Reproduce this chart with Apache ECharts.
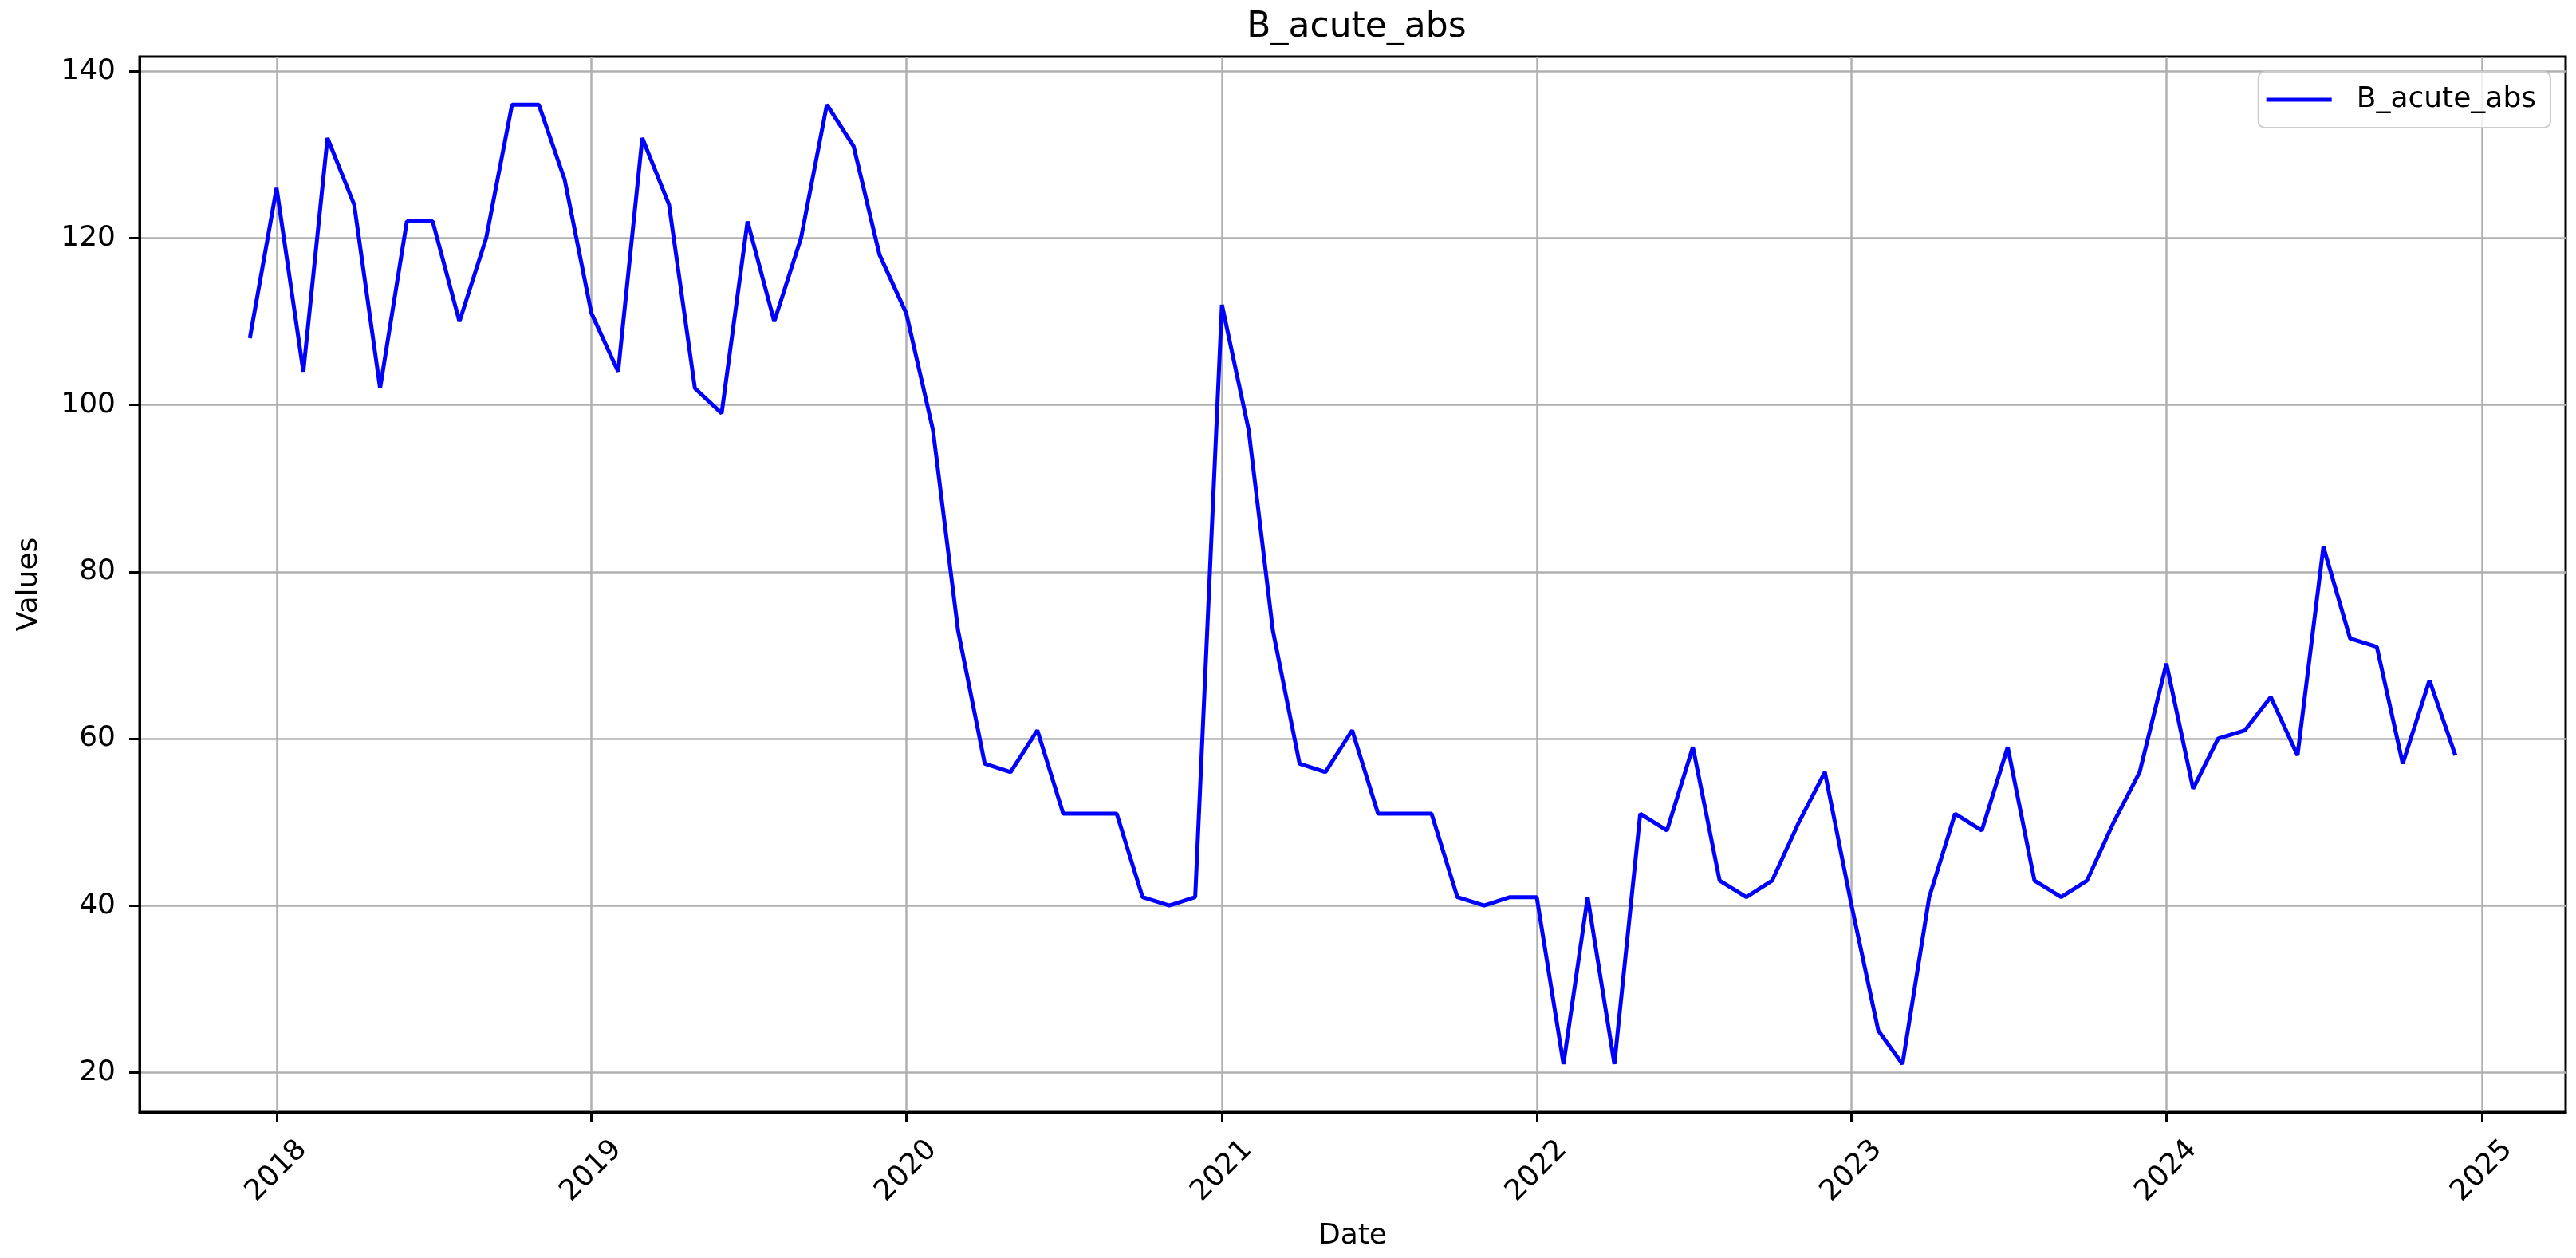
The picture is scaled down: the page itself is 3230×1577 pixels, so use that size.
<!DOCTYPE html>
<html>
<head>
<meta charset="utf-8">
<title>B_acute_abs</title>
<script src="https://cdn.jsdelivr.net/npm/echarts@6/dist/echarts.min.js"></script>
<style>
  html, body { margin: 0; padding: 0; background: #ffffff; }
  #chart { width: 3230px; height: 1577px; }
</style>
</head>
<body>
<div id="chart"></div>
<script>
const seriesName = "B_acute_abs";

// one point per month (first day of the month)
const months = [
  "2017-12",
  "2018-01", "2018-02", "2018-03", "2018-04", "2018-05", "2018-06", "2018-07", "2018-08", "2018-09", "2018-10", "2018-11", "2018-12",
  "2019-01", "2019-02", "2019-03", "2019-04", "2019-05", "2019-06", "2019-07", "2019-08", "2019-09", "2019-10", "2019-11", "2019-12",
  "2020-01", "2020-02", "2020-03", "2020-04", "2020-05", "2020-06", "2020-07", "2020-08", "2020-09", "2020-10", "2020-11", "2020-12",
  "2021-01", "2021-02", "2021-03", "2021-04", "2021-05", "2021-06", "2021-07", "2021-08", "2021-09", "2021-10", "2021-11", "2021-12",
  "2022-01", "2022-02", "2022-03", "2022-04", "2022-05", "2022-06", "2022-07", "2022-08", "2022-09", "2022-10", "2022-11", "2022-12",
  "2023-01", "2023-02", "2023-03", "2023-04", "2023-05", "2023-06", "2023-07", "2023-08", "2023-09", "2023-10", "2023-11", "2023-12",
  "2024-01", "2024-02", "2024-03", "2024-04", "2024-05", "2024-06", "2024-07", "2024-08", "2024-09", "2024-10", "2024-11", "2024-12",
];

const values = [
  108,
  126, 104, 132, 124, 102, 122, 122, 110, 120, 136, 136, 127,
  111, 104, 132, 124, 102, 99, 122, 110, 120, 136, 131, 118,
  111, 97, 73, 57, 56, 61, 51, 51, 51, 41, 40, 41,
  112, 97, 73, 57, 56, 61, 51, 51, 51, 41, 40, 41,
  41, 21, 41, 21, 51, 49, 59, 43, 41, 43, 50, 56,
  40, 25, 21, 41, 51, 49, 59, 43, 41, 43, 50, 56,
  69, 54, 60, 61, 65, 58, 83, 72, 71, 57, 67, 58,
];

const yTicks = [20, 40, 60, 80, 100, 120, 140];
const xTickYears = [2018, 2019, 2020, 2021, 2022, 2023, 2024, 2025];

const toTime = (month) => {
  const [y, m] = month.split("-").map(Number);
  return Date.UTC(y, m - 1, 1);
};

const points = months.map((month, i) => [toTime(month), values[i]]);
const xTickTimes = xTickYears.map((y) => Date.UTC(y, 0, 1));

// matplotlib-like 5% margins around the data
const tFirst = points[0][0];
const tLast = points[points.length - 1][0];
const tPad = (tLast - tFirst) * 0.05;
const vMin = Math.min(...values);
const vMax = Math.max(...values);
const vPad = (vMax - vMin) * 0.05;

const chart = echarts.init(document.getElementById("chart"));

chart.setOption({
  animation: false,
  textStyle: {
    fontFamily: "DejaVu Sans",
    color: "#000000",
  },
  title: {
    text: seriesName,
    left: 1696,
    textAlign: "center",
    top: 8,
    textStyle: {
      fontFamily: "DejaVu Sans",
      fontSize: 44,
      fontWeight: "normal",
      color: "#000000",
    },
  },
  legend: {
    data: [seriesName],
    right: 32,
    top: 90,
    icon: "rect",
    itemWidth: 82,
    itemHeight: 5,
    padding: [17, 18, 17, 10],
    backgroundColor: "rgba(255,255,255,0.8)",
    borderColor: "#cccccc",
    borderWidth: 2,
    borderRadius: 8,
    textStyle: {
      fontFamily: "DejaVu Sans",
      fontSize: 36,
      color: "#000000",
      padding: [0, 0, 0, 26],
    },
  },
  grid: {
    left: 175,
    right: 13,
    top: 71,
    bottom: 183,
    show: true,
    borderColor: "#000000",
    borderWidth: 3,
  },
  xAxis: {
    // dates as timestamps on a value scale, so the yearly ticks can be placed exactly
    type: "value",
    name: "Date",
    nameLocation: "middle",
    nameGap: 138,
    nameTextStyle: {
      fontFamily: "DejaVu Sans",
      fontSize: 36,
      color: "#000000",
    },
    min: tFirst - tPad,
    max: tLast + tPad,
    axisLine: { show: true, onZero: false, lineStyle: { color: "#000000", width: 3 } },
    axisTick: {
      show: true,
      length: 13,
      lineStyle: { color: "#000000", width: 3 },
      customValues: xTickTimes,
    },
    axisLabel: {
      customValues: xTickTimes,
      formatter: (v) => String(new Date(v).getUTCFullYear()),
      rotate: 45,
      align: "center",
      verticalAlign: "middle",
      margin: 74,
      fontFamily: "DejaVu Sans",
      fontSize: 36,
      color: "#000000",
    },
    splitLine: {
      show: true,
      lineStyle: { color: "#b0b0b0", width: 2.5 },
    },
  },
  yAxis: {
    type: "value",
    name: "Values",
    nameLocation: "middle",
    nameGap: 120,
    nameTextStyle: {
      fontFamily: "DejaVu Sans",
      fontSize: 36,
      color: "#000000",
    },
    min: vMin - vPad,
    max: vMax + vPad,
    axisLine: { show: true, onZero: false, lineStyle: { color: "#000000", width: 3 } },
    axisTick: {
      show: true,
      length: 13,
      lineStyle: { color: "#000000", width: 3 },
      customValues: yTicks,
    },
    axisLabel: {
      customValues: yTicks,
      margin: 30,
      fontFamily: "DejaVu Sans",
      fontSize: 36,
      color: "#000000",
    },
    splitLine: {
      show: true,
      lineStyle: { color: "#b0b0b0", width: 2.5 },
    },
  },
  series: [
    {
      name: seriesName,
      type: "line",
      data: points,
      showSymbol: false,
      symbol: "none",
      lineStyle: { color: "#0000ff", width: 5 },
      itemStyle: { color: "#0000ff" },
    },
  ],
});
</script>
</body>
</html>
